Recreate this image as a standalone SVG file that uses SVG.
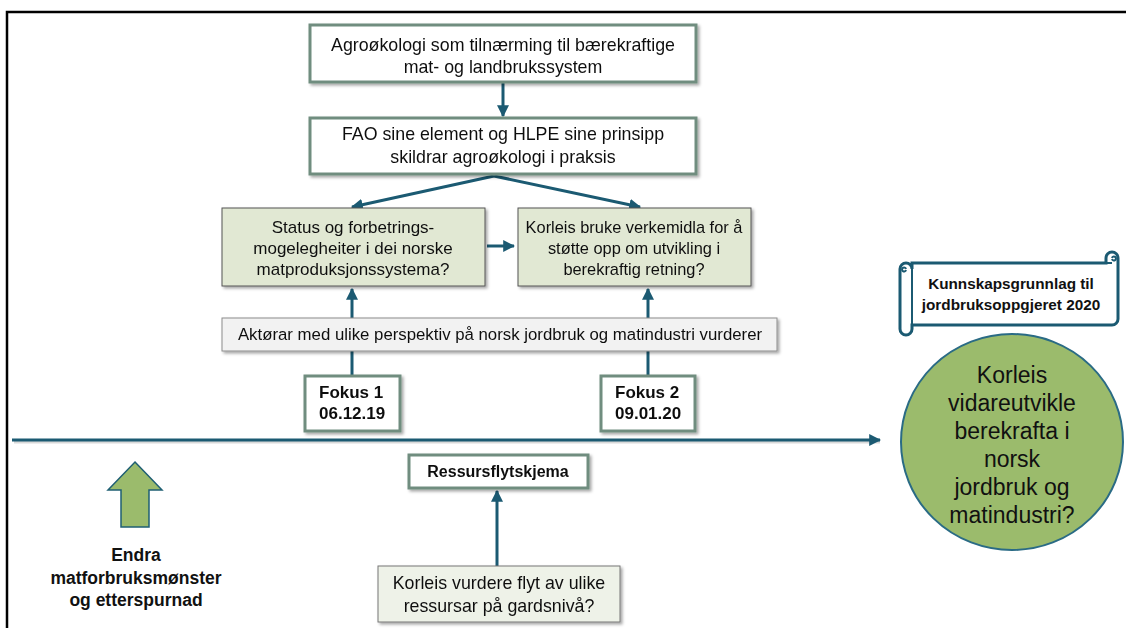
<svg xmlns="http://www.w3.org/2000/svg" width="1126" height="628" viewBox="0 0 1126 628">
<style>
text{font-family:"Liberation Sans",Arial,sans-serif;fill:#111;}
.c{text-anchor:middle;}
.b{font-weight:bold;}
.box{fill:#fff;stroke:#6f8d7f;stroke-width:3;}
.q{fill:#e1e8d3;stroke:#555;stroke-width:1;}
.conn{stroke:#1b5a72;stroke-width:3;fill:none;}
</style>
<defs>
<marker id="ah" viewBox="0 0 10 10" refX="9" refY="5" markerWidth="4" markerHeight="4" orient="auto" markerUnits="strokeWidth">
<path d="M0,0 L10,5 L0,10 Z" fill="#1b5a72"/>
</marker>
<filter id="sh" x="-10%" y="-10%" width="130%" height="140%">
<feDropShadow dx="2" dy="2" stdDeviation="1.5" flood-color="#000" flood-opacity="0.35"/>
</filter>
</defs>
<rect width="1126" height="628" fill="#fff"/>
<path d="M7,628 L7,12 L1126,12" fill="none" stroke="#000" stroke-width="2.5"/>

<g id="connectors">
<line class="conn" x1="503" y1="82" x2="503" y2="116" marker-end="url(#ah)"/>
<line class="conn" x1="494" y1="176" x2="352" y2="207" marker-end="url(#ah)"/>
<line class="conn" x1="494" y1="176" x2="640" y2="207" marker-end="url(#ah)"/>
<line class="conn" x1="487" y1="246" x2="514" y2="246" marker-end="url(#ah)"/>
<line class="conn" x1="352" y1="376" x2="352" y2="289" marker-end="url(#ah)"/>
<line class="conn" x1="648" y1="376" x2="648" y2="289" marker-end="url(#ah)"/>
<line x1="14" y1="442" x2="880" y2="442" stroke="#000" stroke-opacity="0.15" stroke-width="3"/>
<line class="conn" x1="12" y1="440" x2="880" y2="440" marker-end="url(#ah)"/>
<line class="conn" x1="497" y1="566" x2="497" y2="491" marker-end="url(#ah)"/>
</g>

<g id="n-agro" filter="url(#sh)">
<rect class="box" x="310" y="25" width="386" height="57"/>
<text class="c" x="503" y="51" font-size="17.8">Agroøkologi som tilnærming til bærekraftige</text>
<text class="c" x="503" y="73" font-size="17.8">mat- og landbrukssystem</text>
</g>
<g id="n-fao" filter="url(#sh)">
<rect class="box" x="310" y="118" width="386" height="56"/>
<text class="c" x="503" y="140" font-size="17.8">FAO sine element og HLPE sine prinsipp</text>
<text class="c" x="503" y="163" font-size="17.8">skildrar agroøkologi i praksis</text>
</g>
<g id="n-status" filter="url(#sh)">
<rect class="q" x="222" y="208" width="263" height="78"/>
<text class="c" x="353" y="233" font-size="17">Status og forbetrings-</text>
<text class="c" x="353" y="254" font-size="17">mogelegheiter i dei norske</text>
<text class="c" x="353" y="275" font-size="17">matproduksjonssystema?</text>
</g>
<g id="n-korleis" filter="url(#sh)">
<rect class="q" x="518" y="208" width="233" height="78"/>
<text class="c" x="634" y="233" font-size="16.4">Korleis bruke verkemidla for å</text>
<text class="c" x="634" y="254" font-size="16.4">støtte opp om utvikling i</text>
<text class="c" x="634" y="275" font-size="16.4">berekraftig retning?</text>
</g>
<g id="n-aktorar" filter="url(#sh)">
<rect x="222" y="318" width="555" height="33" fill="#f2f2f2" stroke="#8c8c8c" stroke-width="1"/>
<text class="c" x="500" y="340" font-size="16.8">Aktørar med ulike perspektiv på norsk jordbruk og matindustri vurderer</text>
</g>
<g id="n-fokus1" filter="url(#sh)">
<rect class="box" x="305" y="376" width="95" height="55"/>
<text class="b" x="319" y="398" font-size="17">Fokus 1</text>
<text class="b" x="319" y="419" font-size="17">06.12.19</text>
</g>
<g id="n-fokus2" filter="url(#sh)">
<rect class="box" x="601" y="376" width="94" height="55"/>
<text class="b" x="615" y="398" font-size="17">Fokus 2</text>
<text class="b" x="615" y="419" font-size="17">09.01.20</text>
</g>
<g id="n-ressurs" filter="url(#sh)">
<rect class="box" x="409" y="455" width="179" height="33"/>
<text class="c b" x="498" y="477" font-size="16">Ressursflytskjema</text>
</g>
<g id="n-flyt" filter="url(#sh)">
<rect x="378" y="566" width="242" height="56" fill="#eef2e8" stroke="#777" stroke-width="1"/>
<text class="c" x="499" y="589" font-size="17.8">Korleis vurdere flyt av ulike</text>
<text class="c" x="499" y="612" font-size="17.8">ressursar på gardsnivå?</text>
</g>
<g id="n-endra">
<path d="M135,462 L162,490 L149,490 L149,527 L121,527 L121,490 L108,490 Z" fill="#9bbb6c" stroke="#1f5f73" stroke-width="1.5"/>
<text class="c b" x="136" y="561" font-size="17.5">Endra</text>
<text class="c b" x="136" y="584" font-size="17.5">matforbruksmønster</text>
<text class="c b" x="136" y="606" font-size="17.5">og etterspurnad</text>
</g>
<g id="n-scroll">
<path d="M900,269 A6,6 0 0 1 912,269 L912,263 L1106,263 L1106,258 A6,6 0 0 1 1118,258 L1118,319 A6,6 0 0 1 1112,325 L912,325 L912,329 A6,6 0 0 1 900,329 Z" fill="#fff" stroke="#1b5a72" stroke-width="3"/>
<path d="M912,269 L912,325 M1106,263 L1112,263 M1112,258 a2,2 0 1 1 0,1 M906,269 a2,2 0 1 0 0,1" fill="none" stroke="#1b5a72" stroke-width="2"/>
<text class="c b" x="1011" y="289" font-size="15.3">Kunnskapsgrunnlag til</text>
<text class="c b" x="1011" y="310" font-size="15.3">jordbruksoppgjeret 2020</text>
</g>
<g id="n-circle">
<ellipse cx="1012" cy="442" rx="111" ry="108" fill="#9bbb6c" stroke="#2a6b85" stroke-width="2"/>
<text class="c" x="1012" y="383" font-size="23">Korleis</text>
<text class="c" x="1012" y="411" font-size="23">vidareutvikle</text>
<text class="c" x="1012" y="439" font-size="23">berekrafta i</text>
<text class="c" x="1012" y="467" font-size="23">norsk</text>
<text class="c" x="1012" y="495" font-size="23">jordbruk og</text>
<text class="c" x="1012" y="523" font-size="23">matindustri?</text>
</g>
</svg>
